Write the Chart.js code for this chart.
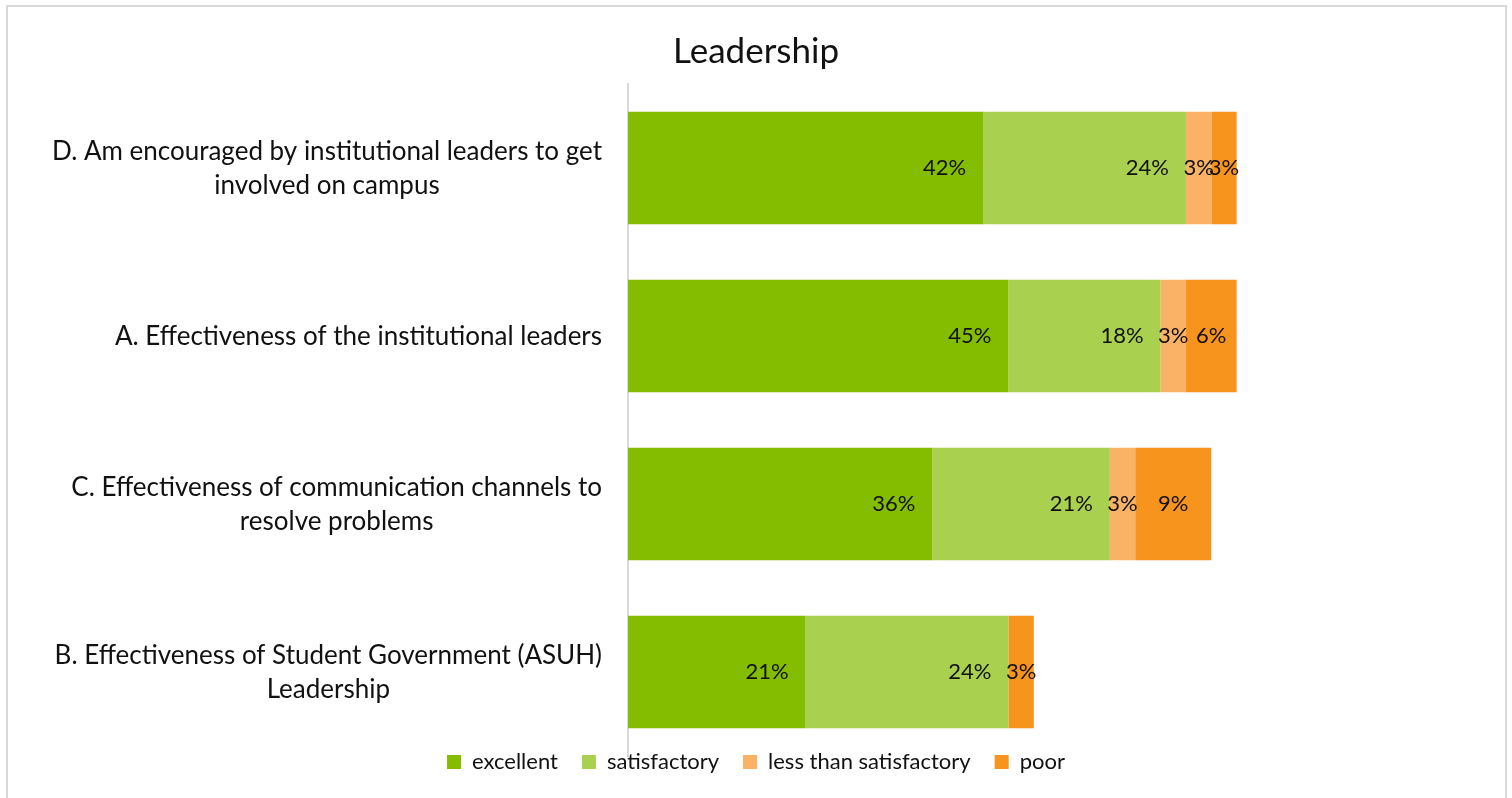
<!DOCTYPE html>
<html><head><meta charset="utf-8">
<script src="https://cdn.jsdelivr.net/npm/chart.js@4.4.1/dist/chart.umd.min.js"></script>
<style>html,body{margin:0;padding:0;background:#fff;}canvas{display:block;}</style>
</head><body>
<canvas id="c" width="1512" height="798"></canvas>
<script>
// ---- data ----
const categories = [
  ['D. Am encouraged by institutional leaders to get', 'involved on campus'],
  ['A. Effectiveness of the institutional leaders'],
  ['C. Effectiveness of communication channels to', 'resolve problems'],
  ['B. Effectiveness of Student Government (ASUH)', 'Leadership']
];
const seriesNames = ['excellent', 'satisfactory', 'less than satisfactory', 'poor'];
const excellent = [42.42, 45.45, 36.36, 21.21];
const satisfactory = [24.24, 18.18, 21.21, 24.24];
const lessThanSatisfactory = [3.03, 3.03, 3.03, null];
const poor = [3.03, 6.06, 9.09, 3.03];
const seriesColors = ['#84BD00', '#A9D04F', '#F9B266', '#F7941D'];
const xMin = 0, xMax = 100;
const chartTitle = 'Leadership';

// ---- style ----
const FONT = "Lato, 'Open Sans', sans-serif";
const TEXT = '#111111';
Chart.defaults.font.family = FONT;

const frame = {
  id: 'frame',
  beforeDraw(chart) {
    const c = chart.ctx;
    c.save();
    c.fillStyle = '#fff';
    c.fillRect(0, 0, chart.width, chart.height);
    c.strokeStyle = '#d9d9d9';
    c.lineWidth = 2;
    c.strokeRect(7, 6, 1499, 900);
    c.restore();
  }
};

const legendShift = {
  id: 'legendShift',
  afterLayout(chart) {
    const lg = chart.legend;
    if (lg) { lg.top -= 29; lg.bottom -= 29; }
  }
};

const catLabels = {
  id: 'catLabels',
  afterDraw(chart) {
    const c = chart.ctx, y = chart.scales.y;
    const right = chart.chartArea.left - 26;
    const LINE = 34;
    c.save();
    c.font = '26px ' + FONT;
    c.fillStyle = TEXT;
    c.textAlign = 'center';
    c.textBaseline = 'middle';
    categories.forEach((lines, i) => {
      const cy = y.getPixelForValue(i) + 1;
      const w = Math.max(...lines.map(l => c.measureText(l).width));
      const cx = right - w / 2;
      lines.forEach((l, j) => c.fillText(l, cx, cy + (j - (lines.length - 1) / 2) * LINE));
    });
    c.restore();
  }
};

const barLabels = {
  id: 'barLabels',
  afterDatasetsDraw(chart) {
    const c = chart.ctx;
    c.save();
    c.font = '22px ' + FONT;
    c.fillStyle = TEXT;
    c.textBaseline = 'middle';
    chart.data.datasets.forEach((ds, di) => {
      const meta = chart.getDatasetMeta(di);
      meta.data.forEach((bar, i) => {
        const v = ds.data[i];
        if (v == null || v === 0) return;
        const p = bar.getProps(['x', 'base', 'y'], true);
        const w = p.x - p.base;
        const txt = Math.round(v) + '%';
        if (w > 100) { c.textAlign = 'right'; c.fillText(txt, p.x - 17, p.y); }
        else { c.textAlign = 'center'; c.fillText(txt, (p.x + p.base) / 2, p.y); }
      });
    });
    c.restore();
  }
};

const seriesData = [excellent, satisfactory, lessThanSatisfactory, poor];

new Chart(document.getElementById('c'), {
  type: 'bar',
  data: {
    labels: categories.map(l => l.join(' ')),
    datasets: seriesNames.map((n, i) => ({
      label: n, data: seriesData[i], backgroundColor: seriesColors[i], borderWidth: 0
    }))
  },
  options: {
    indexAxis: 'y',
    responsive: false,
    animation: false,
    devicePixelRatio: 1,
    layout: { padding: { left: 47, right: 47, top: 0, bottom: -14 } },
    datasets: { bar: { barPercentage: 0.67, categoryPercentage: 1 } },
    scales: {
      x: { stacked: true, display: false, min: xMin, max: xMax },
      y: {
        stacked: true,
        ticks: { display: false },
        grid: { display: false, drawTicks: false },
        border: { display: true, color: '#d9d9d9', width: 2 },
        afterFit(s) { s.width = 628 - 47; }
      }
    },
    plugins: {
      title: {
        display: true, text: chartTitle, color: TEXT,
        font: { family: FONT, size: 35, weight: 'normal' },
        padding: { top: 31, bottom: 11 }
      },
      legend: {
        position: 'bottom',
        labels: { font: { family: FONT, size: 22 }, color: TEXT, boxWidth: 14, boxHeight: 14, padding: 24 }
      },
      tooltip: { enabled: false }
    }
  },
  plugins: [frame, barLabels, catLabels, legendShift]
});
</script>
</body></html>
